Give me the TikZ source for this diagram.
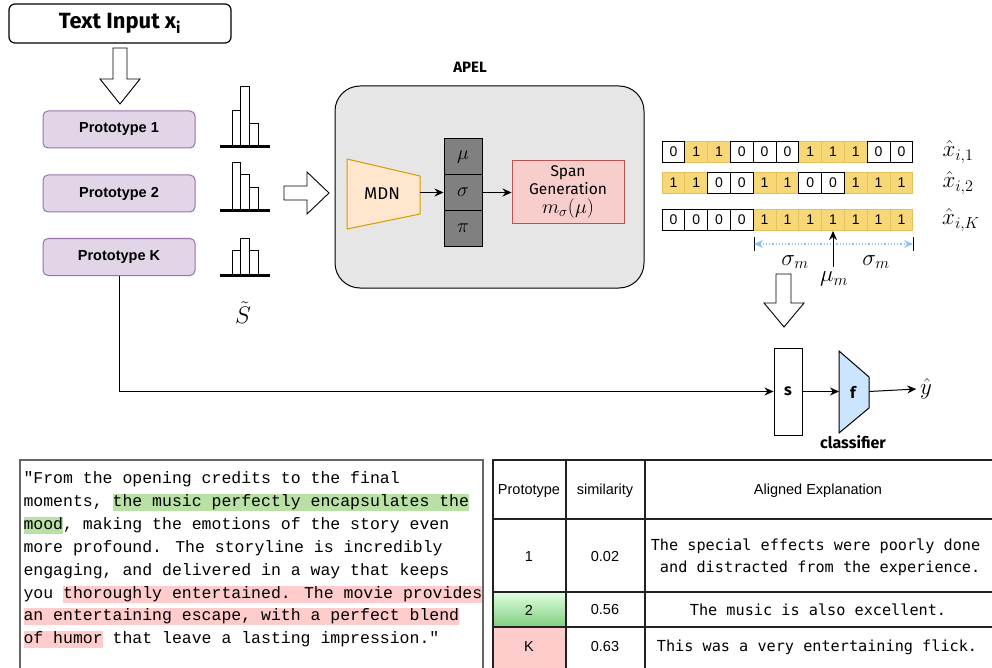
\RequirePackage{fix-cm}
\documentclass[tikz,border=0pt]{standalone}
\usepackage{fontspec}
\newfontfamily\helv{Liberation Sans}
\newfontfamily\comic{Fira Sans}
\newfontfamily\cour{Liberation Mono}
\newfontfamily\djmono{DejaVu Sans Mono}
\usetikzlibrary{arrows.meta,positioning}

\definecolor{protofill}{HTML}{E1D5E7}
\definecolor{protodraw}{HTML}{9673A6}
\definecolor{apelfill}{HTML}{E6E6E6}
\definecolor{mdnfill}{HTML}{FFE6CC}
\definecolor{mdndraw}{HTML}{D79B00}
\definecolor{spanfill}{HTML}{F8CECC}
\definecolor{spandraw}{HTML}{B85450}
\definecolor{stackfill}{HTML}{808080}
\definecolor{onefill}{HTML}{F8D776}
\definecolor{onedraw}{HTML}{E3C25E}
\definecolor{spanblue}{HTML}{8FC3F5}
\definecolor{clsfill}{HTML}{CCE5FF}
\definecolor{hlgreen}{HTML}{B9E0A5}
\definecolor{hlpink}{HTML}{FFCCCC}
\definecolor{gridline}{HTML}{222222}

% highlighted spans in the review text
\newcommand{\hlg}[1]{{\fboxsep=0pt\colorbox{hlgreen}{\vrule height 12.5pt depth 4.5pt width 0pt#1}}}
\newcommand{\hlp}[1]{{\fboxsep=0pt\colorbox{hlpink}{\vrule height 12.5pt depth 4.5pt width 0pt#1}}}

\tikzset{
  inbox/.style={draw, line width=1.2pt, rounded corners=6pt, minimum width=222pt,
    minimum height=39pt, font=\comic\bfseries\fontsize{22}{25}\selectfont},
  proto/.style={draw=protodraw, fill=protofill, rounded corners=5pt, minimum width=152pt,
    minimum height=37pt, font=\helv\bfseries\fontsize{14.5}{16}\selectfont},
  hollow/.style={draw, fill=white, line width=0.9pt},
  bar/.style={draw, fill=white, line width=0.9pt},
  apelbox/.style={draw, fill=apelfill, line width=1pt, rounded corners=25pt,
    minimum width=309pt, minimum height=202pt},
  stack/.style={draw, fill=stackfill, minimum width=38pt, minimum height=35.7pt,
    inner sep=0pt, font=\fontsize{20}{22}\selectfont},
  spanbox/.style={draw=spandraw, fill=spanfill, minimum width=112pt, minimum height=63pt,
    align=center, inner sep=0pt, font=\comic\fontsize{15.5}{18}\selectfont},
  bitone/.style={draw=onedraw, fill=onefill, minimum width=22.8pt, minimum height=21pt,
    inner sep=0pt, font=\helv\fontsize{14}{16}\selectfont},
  bitzero/.style={bitone, draw=black, fill=white},
  mathlab/.style={font=\fontsize{23}{25}\selectfont},
  label/.style={font=\comic\bfseries\fontsize{16}{18}\selectfont},
  revline/.style={anchor=base west, inner sep=0pt, font=\cour\fontsize{16.5}{23}\selectfont},
  thead/.style={font=\helv\fontsize{14.5}{17}\selectfont},
  texpl/.style={font=\djmono\fontsize{15.2}{22}\selectfont},
}

% one row of bits: name, y, list of bits
\newcommand{\bitrow}[3]{%
  \foreach \b [count=\i] in {#3} {\ifnum\b=1 \node[bitone] (#1-\i) at ({662+22.8*(\i-0.5)},#2) {1};\fi}
  \foreach \b [count=\i] in {#3} {\ifnum\b=0 \node[bitzero] (#1-\i) at ({662+22.8*(\i-0.5)},#2) {0};\fi}
}

\begin{document}
\begin{tikzpicture}[x=1pt,y=-1pt, >={Stealth[length=9pt,width=8pt]}, line width=1pt]
\useasboundingbox (0,0) rectangle (992,668);

% input and prototypes
\node[inbox] (input) at (120,23.5) {Text Input x\textsubscript{i}};
\draw[hollow] (113,48) -- (127,48) -- (127,79) -- (140,79) -- (120,104) -- (100,79) -- (113,79) -- cycle;

\node[proto] (p1) at (119,129.5) {Prototype 1};
\node[proto] (p2) at (119,193.5) {Prototype 2};
\node[proto] (pk) at (119,257) {Prototype K};

% similarity histograms
\foreach \y/\ha/\hb/\hc in {147/37/61/24, 211/49/37/24, 275/25/37/25} {
  \draw[bar] (232,\y) rectangle (240.5,\y-\ha);
  \draw[bar] (240.5,\y) rectangle (249,\y-\hb);
  \draw[bar] (249,\y) rectangle (258,\y-\hc);
  \draw[line width=3pt] (220,\y) -- (270,\y);
}
\node[font=\fontsize{24}{26}\selectfont] (stilde) at (243,313) {$\tilde{S}$};

\draw[hollow] (284,186) -- (307,186) -- (307,172) -- (329,193) -- (307,214) -- (307,200) -- (284,200) -- cycle;

% APEL module
\node[font=\comic\bfseries\fontsize{15}{17}\selectfont] (apellab) at (470,67) {APEL};
\node[apelbox] (apel) at (489.5,187) {};

\draw[draw=mdndraw, fill=mdnfill] (347,159) -- (420,176) -- (420,214) -- (347,229) -- cycle;
\node[font=\comic\fontsize{17}{19}\selectfont] (mdn) at (382,194) {MDN};
\coordinate (mdnout) at (420,192.5);

\node[stack] (mu) at (463,156.8) {$\mu$};
\node[stack] (sg) at (463,192.5) {$\sigma$};
\node[stack] (pi) at (463,228.2) {$\pi$};

\node[spanbox] (span) at (568,192.5) {Span\\Generation\\[1pt]{\fontsize{20}{22}\selectfont$m_{\sigma}(\mu)$}};

\draw[->] (mdnout) -- (sg.west);
\draw[->] (sg.east) -- (span.west);

% generated explanation masks
\bitrow{ra}{152}{0,1,1,0,0,0,1,1,1,0,0}
\bitrow{rb}{183}{1,1,0,0,1,1,0,0,1,1,1}
\bitrow{rk}{220}{0,0,0,0,1,1,1,1,1,1,1}

\node[mathlab] (xa) at (958,152) {$\hat{x}_{i,1}$};
\node[mathlab] (xb) at (958,183) {$\hat{x}_{i,2}$};
\node[mathlab] (xk) at (961,220) {$\hat{x}_{i,K}$};

\coordinate (sl) at (754,244);
\coordinate (sr) at (913,244);
\draw[line width=1pt] (754,237) -- (754,251);
\draw[line width=1pt] (913,237) -- (913,251);
\draw[spanblue, dotted, line width=1.2pt, {Stealth[length=9pt,width=8pt]}-{Stealth[length=9pt,width=8pt]}] (sl) -- (sr);

\coordinate (muin) at (833,267);
\draw[->] (muin) -- (rk-8.south);
\node[mathlab] (sml) at (795,262) {$\sigma_m$};
\node[mathlab] (smr) at (876,262) {$\sigma_m$};
\node[mathlab] (mum) at (834,279) {$\mu_m$};

\draw[hollow] (776,274) -- (791,274) -- (791,303) -- (804,303) -- (784,327) -- (764,303) -- (776,303) -- cycle;

% classifier
\node[draw, fill=white, minimum width=28pt, minimum height=87pt, label] (s) at (788,391.5) {s};
\draw[fill=clsfill] (839,351) -- (869,377) -- (869,408) -- (839,433) -- cycle;
\node[label] (f) at (853,392) {f};
\coordinate (fin) at (839,391.5);
\coordinate (fout) at (869,391.5);
\node[label] (cls) at (853,442) {classifier};
\node[mathlab] (yhat) at (926,389) {$\hat{y}$};

\draw[->] (pk.south) |- (s.west);
\draw[->] (s.east) -- (fin);
\draw[->] (fout) -- (yhat.west);

% review text
\draw[draw=gray!80!black, line width=1.2pt] (20,460) rectangle (483,672);
\node[revline] (l1) at (23,483.5) {"From the opening credits to the final};
\node[revline] (l2) at (23,506.4) {moments, \hlg{the music perfectly encapsulates the}};
\node[revline] (l3) at (23,529.3) {\hlg{mood}, making the emotions of the story even};
\node[revline] (l4) at (23,552.2) {more profound. The storyline is incredibly};
\node[revline] (l5) at (23,575.1) {engaging, and delivered in a way that keeps};
\node[revline] (l6) at (23,598.0) {you \hlp{thoroughly entertained. The movie provides}};
\node[revline] (l7) at (23,620.9) {\hlp{an entertaining escape, with a perfect blend}};
\node[revline] (l8) at (23,643.8) {\hlp{of humor} that leave a lasting impression."};

% explanation table
\shade[top color=green!12!white, bottom color=green!45!gray!70!white] (493,592) rectangle (566,627);
\fill[hlpink] (493,627) rectangle (566,670);
\draw[gridline, line width=1.2pt] (493,460) rectangle (998,672);
\draw[gridline, line width=1.2pt] (566,460) -- (566,672);
\draw[gridline, line width=1.2pt] (645,460) -- (645,672);
\foreach \y in {519,592,627} \draw[gridline, line width=1.2pt] (493,\y) -- (998,\y);

\node[thead] (h1) at (529,491) {Prototype};
\node[thead] (h2) at (605,491) {similarity};
\node[thead] (h3) at (818,491) {Aligned Explanation};

\node[thead] (c11) at (529,557) {1};
\node[thead] (c12) at (605,557) {0.02};
\node[texpl, align=left, anchor=west] (c13) at (647,557) {The special effects were poorly done\\\ and distracted from the experience.};
\node[thead] (c21) at (529,610) {2};
\node[thead] (c22) at (605,610) {0.56};
\node[texpl] (c23) at (818,610) {The music is also excellent.};
\node[thead] (ck1) at (529,647) {K};
\node[thead] (ck2) at (605,647) {0.63};
\node[texpl] (ck3) at (817,647) {This was a very entertaining flick.};
\end{tikzpicture}
\end{document}
